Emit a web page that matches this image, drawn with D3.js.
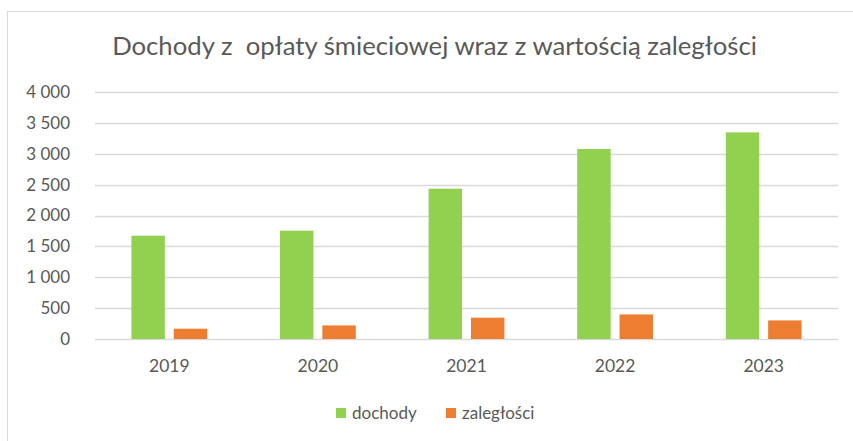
<!DOCTYPE html>
<html>
<head>
<meta charset="utf-8">
<script src="https://cdn.jsdelivr.net/npm/d3@7"></script>
<style>
  body { margin: 0; background: #fff; }
  svg { display: block; font-family: Lato, "Open Sans", sans-serif; }
</style>
</head>
<body>
<div id="chart"></div>
<script>
const years = ["2019", "2020", "2021", "2022", "2023"];
const dochody = [1673, 1754, 2434, 3077, 3346];
const zaleglosci = [167, 220, 345, 398, 301];
const seriesNames = ["dochody", "zaległości"];
const seriesColors = ["#92D050", "#ED7D31"];
const yTicks = [0, 500, 1000, 1500, 2000, 2500, 3000, 3500, 4000];
const title = "Dochody z  opłaty śmieciowej wraz z wartością zaległości";

const width = 853;
const height = 441;
const margin = { top: 92, right: 15, bottom: 102, left: 95 };

const svg = d3.select("#chart")
  .append("svg")
  .attr("width", width)
  .attr("height", height);

// chart frame
svg.append("rect")
  .attr("x", 7.5)
  .attr("y", 11.5)
  .attr("width", width)
  .attr("height", height)
  .attr("fill", "#fff")
  .attr("stroke", "#d9d9d9");

const x = d3.scaleBand()
  .domain(years)
  .range([margin.left, width - margin.right])
  .paddingInner(0)
  .paddingOuter(0);

const innerW = x.bandwidth() * 0.51;
const x1 = d3.scaleBand()
  .domain(seriesNames)
  .range([(x.bandwidth() - innerW) / 2, (x.bandwidth() + innerW) / 2])
  .paddingInner(0.21);

const y = d3.scaleLinear()
  .domain([0, 4000])
  .range([height - margin.bottom, margin.top]);

// gridlines
svg.append("g")
  .selectAll("line")
  .data(yTicks)
  .enter()
  .append("line")
  .attr("x1", margin.left)
  .attr("x2", width - margin.right)
  .attr("y1", (d) => Math.round(y(d)) + 0.5)
  .attr("y2", (d) => Math.round(y(d)) + 0.5)
  .attr("stroke", "#d9d9d9")
  .attr("stroke-width", 1.3);

// y axis labels
const fmt = (d) => d3.format(",")(d).replace(/,/g, "\u2009\u2009");
const yAxis = d3.axisLeft(y).tickValues(yTicks).tickFormat(fmt).tickSize(0).tickPadding(0);
const gy = svg.append("g")
  .attr("transform", `translate(${margin.left - 25},0)`)
  .call(yAxis);
gy.select(".domain").remove();
gy.selectAll("text")
  .attr("fill", "#595959")
  .style("font-size", "17px")
  .style("font-family", "Lato, sans-serif");

// x axis labels
const xAxis = d3.axisBottom(x).tickSize(0).tickPadding(0);
const gx = svg.append("g")
  .attr("transform", `translate(0,${height - margin.bottom + 21})`)
  .call(xAxis);
gx.select(".domain").remove();
gx.selectAll("text")
  .attr("fill", "#595959")
  .style("font-size", "17.5px")
  .style("font-family", "Lato, sans-serif");

// bars
const rows = years.map((yr, i) => ({ year: yr, values: [dochody[i], zaleglosci[i]] }));
const groups = svg.append("g")
  .selectAll("g")
  .data(rows)
  .enter()
  .append("g")
  .attr("transform", (d) => `translate(${x(d.year)},0)`);

groups.selectAll("rect")
  .data((d) => d.values.map((v, j) => ({ name: seriesNames[j], value: v, color: seriesColors[j] })))
  .enter()
  .append("rect")
  .attr("x", (d) => x1(d.name))
  .attr("width", x1.bandwidth())
  .attr("y", (d) => y(d.value))
  .attr("height", (d) => y(0) - y(d.value))
  .attr("fill", (d) => d.color);

// title
const t = svg.append("text")
  .attr("x", 434.5)
  .attr("y", 55)
  .attr("text-anchor", "middle")
  .attr("fill", "#595959")
  .style("font-size", "24px")
  .style("white-space", "pre")
  .attr("xml:space", "preserve")
  .text(title);
// fit title to the reference width
const tw = t.node().getComputedTextLength();
t.style("font-size", (24 * 645 / tw).toFixed(2) + "px");

// legend
const legendPos = [336, 446];
const legend = svg.append("g")
  .selectAll("g")
  .data(seriesNames)
  .enter()
  .append("g")
  .attr("transform", (d, i) => `translate(${legendPos[i]},408)`);

legend.append("rect")
  .attr("width", 10)
  .attr("height", 10)
  .attr("fill", (d, i) => seriesColors[i]);

legend.append("text")
  .attr("x", 16)
  .attr("y", 11)
  .attr("fill", "#595959")
  .style("font-size", "17px")
  .text((d) => d);
</script>
</body>
</html>
